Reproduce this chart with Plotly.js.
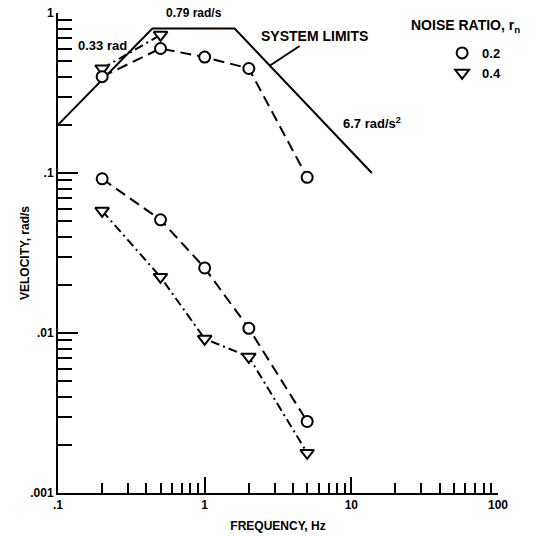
<!DOCTYPE html>
<html>
<head>
<meta charset="utf-8">
<script src="https://cdn.plot.ly/plotly-3.0.1.min.js"></script>
<style>html,body{margin:0;padding:0;background:#fff;}#chart{width:544px;height:536px;}</style>
</head>
<body>
<div id="chart"></div>
<script>
// Frequency points (Hz)
const freqUpperCircle = [0.2, 0.5, 1, 2, 5];
const velUpperCircle  = [0.40, 0.60, 0.53, 0.45, 0.094];
const freqUpperTri    = [0.2, 0.5];
const velUpperTri     = [0.45, 0.73];
const freqLowerCircle = [0.2, 0.5, 1, 2, 5];
const velLowerCircle  = [0.092, 0.051, 0.0255, 0.0107, 0.0028];
const freqLowerTri    = [0.2, 0.5, 1, 2, 5];
const velLowerTri     = [0.058, 0.0224, 0.0092, 0.0071, 0.00178];
// System limits envelope
const freqLimits = [0.1, 0.44, 1.6, 13.8];
const velLimits  = [0.2, 0.8, 0.8, 0.1];
// Ticks
const xTickVals = [0.1, 1, 10, 100];
const xTickText = ['.1', '1', '10', '100'];
const xMinorVals = [0.2, 0.3, 0.4, 0.5, 0.6, 0.7, 0.8, 0.9,
                    2, 3, 4, 5, 6, 7, 8, 9,
                    20, 30, 40, 50, 60, 70, 80, 90];
const yTickVals = [0.001, 0.01, 0.1, 1];
const yTickText = ['.001', '.01', '.1', '1'];
const yMinorVals = [0.002, 0.003, 0.004, 0.005, 0.006, 0.007, 0.008, 0.009,
                    0.02, 0.03, 0.04, 0.05, 0.06, 0.07, 0.08, 0.09,
                    0.2, 0.3, 0.4, 0.5, 0.6, 0.7, 0.8, 0.9];
const legendNames = ['0.2', '0.4'];

const FONT = 'Liberation Sans, Arial, sans-serif';
const circleMarker = {symbol: 'circle-open', size: 11, color: '#000', line: {width: 2, color: '#000'}};
const triMarker = {symbol: 'triangle-down-open', size: 12, color: '#000', line: {width: 2, color: '#000'}};
const whiteCircle = {symbol: 'circle', size: 11, color: '#fff', line: {width: 2, color: '#000'}};
const whiteTri = {symbol: 'triangle-down', size: 12, color: '#fff', line: {width: 2, color: '#000'}};

const traces = [
  {x: freqLimits, y: velLimits, mode: 'lines', line: {color: '#000', width: 2}, showlegend: false},
  {x: freqUpperTri, y: velUpperTri, mode: 'lines+markers', line: {color: '#000', width: 2, dash: '9px,4px,2px,4px'}, marker: whiteTri, showlegend: false},
  {x: freqUpperCircle, y: velUpperCircle, mode: 'lines+markers', line: {color: '#000', width: 2, dash: '11px,6px'}, marker: whiteCircle, showlegend: false},
  {x: freqLowerCircle, y: velLowerCircle, mode: 'lines+markers', line: {color: '#000', width: 2, dash: '11px,6px'}, marker: whiteCircle, showlegend: false},
  {x: freqLowerTri, y: velLowerTri, mode: 'lines+markers', line: {color: '#000', width: 2, dash: '9px,4px,2px,4px'}, marker: whiteTri, showlegend: false},
  {x: [null], y: [null], mode: 'markers', marker: circleMarker, name: legendNames[0], showlegend: true},
  {x: [null], y: [null], mode: 'markers', marker: triMarker, name: legendNames[1], showlegend: true}
];

const f = (s) => ({family: FONT, size: s, color: '#000', weight: 'bold'});
const ctr = (s) => ({showarrow: false, xanchor: 'center', yanchor: 'middle', font: f(s), xref: 'paper', yref: 'paper'});
const layout = {
  width: 544, height: 536,
  margin: {l: 58, r: 46, t: 13, b: 43},
  paper_bgcolor: '#fff', plot_bgcolor: '#fff',
  font: {family: FONT, size: 12, color: '#000', weight: 'bold'},
  xaxis: {
    type: 'log', range: [-1, 2], tickvals: xTickVals, ticktext: xTickText,
    ticks: 'inside', ticklen: 16, tickwidth: 2, tickcolor: '#000',
    showline: true, linewidth: 2, linecolor: '#000', showgrid: false, zeroline: false,
    minor: {tickvals: xMinorVals, ticks: 'inside', ticklen: 10, tickwidth: 2, tickcolor: '#000', showgrid: false},
    tickfont: f(12),
    title: {text: 'FREQUENCY, Hz', font: f(12), standoff: 10}
  },
  yaxis: {
    type: 'log', range: [-3, 0], tickvals: yTickVals, ticktext: yTickText,
    ticks: 'inside', ticklen: 20, tickwidth: 2, tickcolor: '#000',
    showline: true, linewidth: 2, linecolor: '#000', showgrid: false, zeroline: false,
    minor: {tickvals: yMinorVals, ticks: 'inside', ticklen: 14, tickwidth: 2, tickcolor: '#000', showgrid: false},
    tickfont: f(12)
  },
  showlegend: true,
  legend: {x: 0.873, y: 0.948, xanchor: 'left', yanchor: 'top', bgcolor: 'rgba(0,0,0,0)',
           font: f(13), tracegroupgap: 0, itemwidth: 30},
  annotations: [
    Object.assign(ctr(12), {x: -0.075, y: 0.5, text: 'VELOCITY, rad/s', textangle: -90}),
    Object.assign(ctr(13), {x: 0.1, y: 0.9313, text: '0.33 rad'}),
    Object.assign(ctr(12), {x: 0.31, y: 1.0, text: '0.79 rad/s'}),
    {xref: 'x', yref: 'y', x: Math.log10(2.79), y: Math.log10(0.47), text: 'SYSTEM LIMITS', showarrow: true,
     arrowhead: 0, arrowwidth: 2, arrowcolor: '#000', ax: 44, ay: -29, xanchor: 'center', yanchor: 'middle', font: f(14)},
    Object.assign(ctr(13), {x: 0.7136, y: 0.771, text: '6.7 rad/s<sup>2</sup>'}),
    Object.assign(ctr(14), {x: 0.925, y: 0.973, text: 'NOISE RATIO, r<sub>n</sub>'})
  ]
};

Plotly.newPlot('chart', traces, layout, {displayModeBar: false, staticPlot: true});
</script>
</body>
</html>
